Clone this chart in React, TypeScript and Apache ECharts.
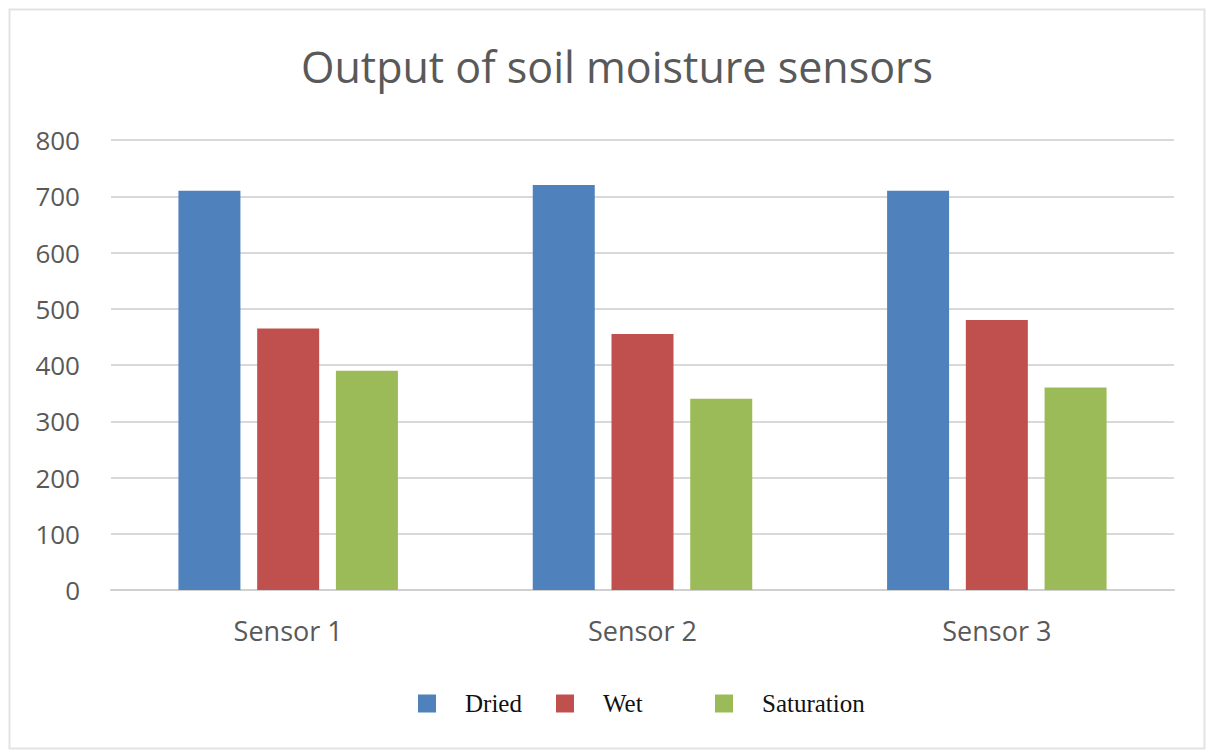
import React, { useEffect, useRef } from "react";
import * as echarts from "echarts";

const categories = ["Sensor 1", "Sensor 2", "Sensor 3"];
const dried = [710, 720, 710];
const wet = [465, 455, 480];
const saturation = [390, 340, 360];
const yTicks = { min: 0, max: 800, interval: 100 };

const colors = { dried: "#4F81BD", wet: "#C0504D", saturation: "#9BBB59" };

export default function App() {
  const ref = useRef<HTMLDivElement>(null);
  useEffect(() => {
    document.body.style.margin = "0";
    const chart = echarts.init(ref.current!, null, { renderer: "svg" });
    const legendBase = {
      top: 686,
      icon: "rect",
      itemWidth: 18,
      itemHeight: 18,
      selectedMode: false,
      textStyle: {
        fontFamily: "Liberation Serif",
        fontSize: 25,
        color: "#111",
        padding: [0, 0, 0, 24],
      },
    };
    chart.setOption({
      animation: false,
      backgroundColor: "#fff",
      title: {
        text: "Output of soil moisture sensors",
        left: 296,
        top: 40,
        textStyle: {
          fontFamily: "Open Sans",
          fontWeight: "normal",
          fontSize: 43,
          color: "#595959",
        },
      },
      graphic: [
        {
          type: "rect",
          shape: { x: 9.5, y: 9.5, width: 1195, height: 739 },
          style: { fill: "none", stroke: "#e3e3e3", lineWidth: 2 },
          silent: true,
          z: -1,
        },
      ],
      legend: [
        { ...legendBase, left: 413, data: ["Dried"] },
        { ...legendBase, left: 551, data: ["Wet"] },
        { ...legendBase, left: 710, data: ["Saturation"] },
      ],
      grid: { left: 111, right: 32, top: 140, bottom: 161, containLabel: false },
      xAxis: {
        type: "category",
        data: categories,
        axisLine: { lineStyle: { color: "#d0d0d0", width: 2 } },
        axisTick: { show: false },
        axisLabel: {
          fontFamily: "Open Sans",
          fontSize: 27,
          color: "#595959",
          margin: 27,
        },
      },
      yAxis: {
        type: "value",
        min: yTicks.min,
        max: yTicks.max,
        interval: yTicks.interval,
        axisLine: { show: false },
        axisTick: { show: false },
        splitLine: { lineStyle: { color: "#d9d9d9", width: 2 } },
        axisLabel: {
          fontFamily: "Open Sans",
          fontSize: 26,
          color: "#595959",
          margin: 31,
        },
      },
      series: [
        { name: "Dried", type: "bar", data: dried, barWidth: 62, barGap: "27%", itemStyle: { color: colors.dried } },
        { name: "Wet", type: "bar", data: wet, barWidth: 62, barGap: "27%", itemStyle: { color: colors.wet } },
        { name: "Saturation", type: "bar", data: saturation, barWidth: 62, barGap: "27%", itemStyle: { color: colors.saturation } },
      ],
    });
    return () => chart.dispose();
  }, []);
  return <div ref={ref} style={{ width: 1206, height: 751 }} />;
}
